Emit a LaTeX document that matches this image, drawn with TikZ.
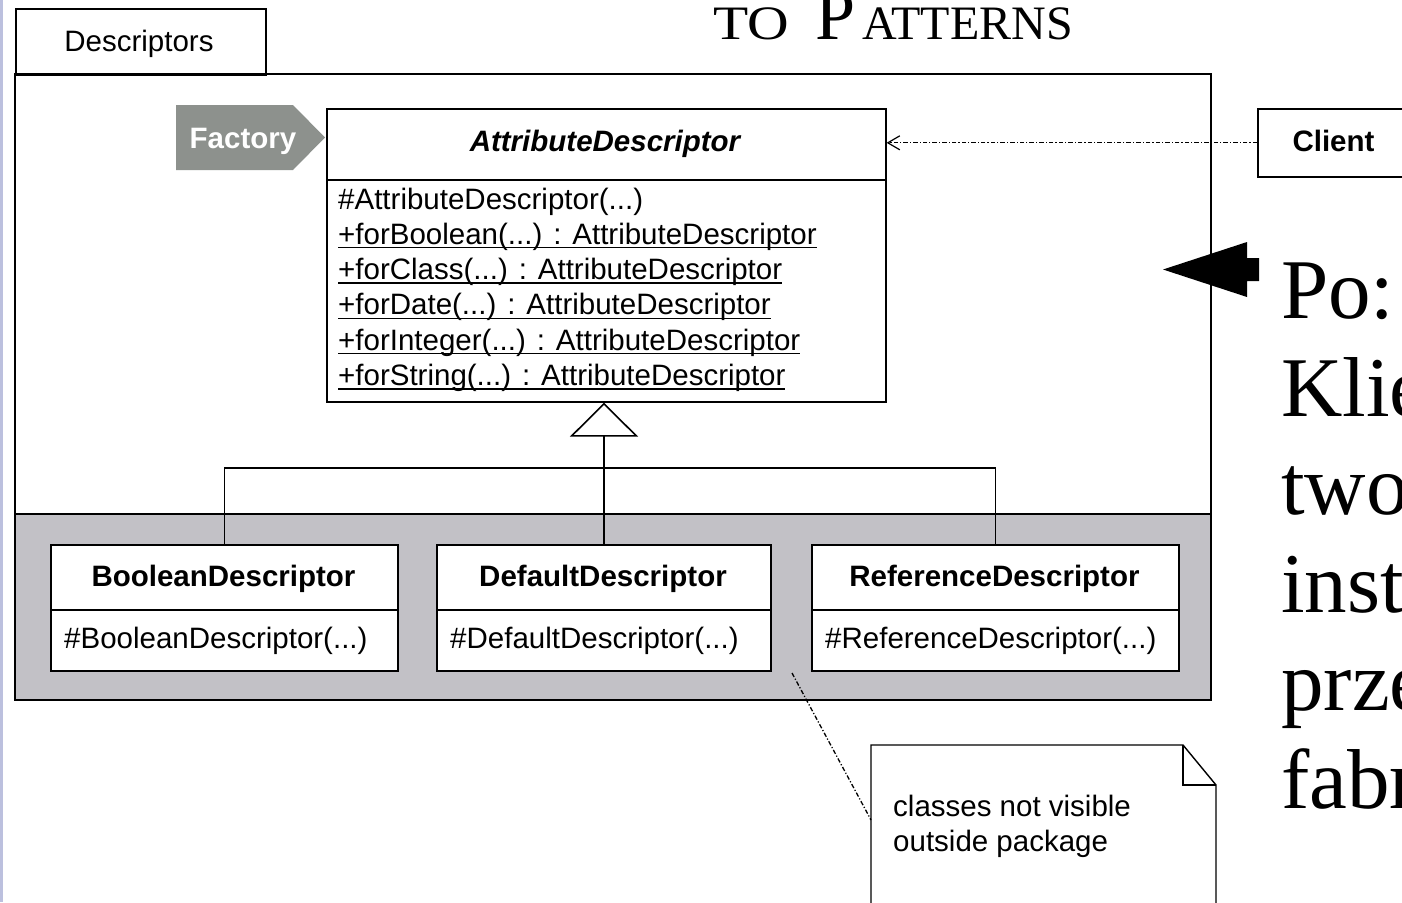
\documentclass[tikz,border=0pt]{standalone}
\usepackage{fontspec}
\newfontfamily\umlfont{Liberation Sans}
\newfontfamily\slidefont{Liberation Serif}
\usetikzlibrary{arrows.meta}
\definecolor{pkggray}{HTML}{C2C1C6}
\definecolor{factgray}{HTML}{8D918D}
\definecolor{sidebar}{HTML}{BCC0DE}
\newsavebox\ulbox
% underlined (static) operation
\newcommand\mthul[1]{\sbox\ulbox{#1}\makebox[0pt][l]{\rule[-4pt]{\wd\ulbox}{1.4pt}}\usebox\ulbox}

\begin{document}
\begin{tikzpicture}[x=1pt,y=-1pt,
  umltext/.style={font=\umlfont\fontsize{29.5}{35}\selectfont, inner sep=0pt},
  umlbold/.style={umltext, font=\umlfont\bfseries\fontsize{29.5}{35}\selectfont},
  clsbox/.style={draw=black, fill=white, line width=1.6pt, inner sep=0pt, anchor=north west},
  outline/.style={draw=black, line width=1.6pt},
  dep/.style={line width=1.3pt, dash pattern=on 4.5pt off 2pt on 1.2pt off 2pt},
  slidetext/.style={font=\slidefont\fontsize{85}{96}\selectfont, inner sep=0pt, anchor=base west},
  headtext/.style={font=\slidefont, inner sep=0pt}
]
\useasboundingbox (0,0) rectangle (1402,902);
\fill[white] (0,0) rectangle (1402,902);
\fill[sidebar] (0,0) rectangle (3,902);

% slide heading
\node[headtext, anchor=base west, font=\slidefont\fontsize{48}{50}\selectfont] (hto) at (713,39) {\scalebox{1.2}[1]{TO}};
\node[headtext, anchor=base west, font=\slidefont\fontsize{72}{74}\selectfont] (hp) at (815,39) {P};
\node[headtext, anchor=base east, font=\slidefont\fontsize{48}{50}\selectfont] (hatt) at (1073,39) {ATTERNS};

% package Descriptors
\fill[pkggray] (15,514) rectangle (1211,700);
\draw[outline] (15,514) -- (1211,514);
\draw[outline] (15,74) rectangle (1211,700);
\node[draw=black, line width=1.6pt, anchor=north west, minimum width=250pt, minimum height=66pt, inner sep=0pt] (tab) at (15,8) {};
\node[umltext, anchor=base] (tablbl) at (139,51) {Descriptors};

% Factory label
\fill[factgray] (176,105) -- (293,105) -- (325,137.5) -- (293,170) -- (176,170) -- cycle;
\node[umlbold, text=white, anchor=base] (factory) at (243,148) {Factory};

% AttributeDescriptor
\node[clsbox, minimum width=559pt, minimum height=71pt] (attrhead) at (326,108) {};
\node[clsbox, minimum width=559pt, minimum height=222pt] (attrbody) at (326,179) {};
\node[umltext, anchor=base, font=\umlfont\bfseries\itshape\fontsize{29.5}{35}\selectfont] (attrname) at (605,151) {AttributeDescriptor};
\node[umltext, anchor=base west] (m1) at (338,209) {\#AttributeDescriptor(...)};
\node[umltext, anchor=base west] (m2) at (338,244.3) {\mthul{+forBoolean(...) : AttributeDescriptor}};
\node[umltext, anchor=base west] (m3) at (338,279.6) {\mthul{+forClass(...) : AttributeDescriptor}};
\node[umltext, anchor=base west] (m4) at (338,314.9) {\mthul{+forDate(...) : AttributeDescriptor}};
\node[umltext, anchor=base west] (m5) at (338,350.2) {\mthul{+forInteger(...) : AttributeDescriptor}};
\node[umltext, anchor=base west] (m6) at (338,385.5) {\mthul{+forString(...) : AttributeDescriptor}};

% concrete descriptors
\node[clsbox, minimum width=347pt, minimum height=65pt] (boolhead) at (50,544) {};
\node[clsbox, minimum width=347pt, minimum height=61pt] (boolbody) at (50,609) {};
\node[umlbold, anchor=base] (boolname) at (223.5,586) {BooleanDescriptor};
\node[umltext, anchor=base west] (boolop) at (64,648) {\#BooleanDescriptor(...)};

\node[clsbox, minimum width=334pt, minimum height=65pt] (defhead) at (436,544) {};
\node[clsbox, minimum width=334pt, minimum height=61pt] (defbody) at (436,609) {};
\node[umlbold, anchor=base] (defname) at (603,586) {DefaultDescriptor};
\node[umltext, anchor=base west] (defop) at (450,648) {\#DefaultDescriptor(...)};

\node[clsbox, minimum width=367pt, minimum height=65pt] (refhead) at (811,544) {};
\node[clsbox, minimum width=367pt, minimum height=61pt] (refbody) at (811,609) {};
\node[umlbold, anchor=base] (refname) at (994.5,586) {ReferenceDescriptor};
\node[umltext, anchor=base west] (refop) at (825,648) {\#ReferenceDescriptor(...)};

% generalization
\coordinate (bus) at (604,468);
\draw[line width=1.6pt] (boolhead.north) |- (bus) -| (refhead.north);
\draw[line width=1.6pt, -{Triangle[open, length=34pt, width=68pt, line width=1.6pt]}] (bus |- defhead.north) -- (bus |- attrbody.south);

% Client
\node[clsbox, minimum width=183pt, minimum height=68pt] (client) at (1257,108) {};
\node[umlbold, anchor=base] (clientlbl) at (1333.5,151) {Client};
\draw[dep, -{Straight Barb[length=12pt, width=14pt, line width=1.2pt]}] (client.west) -- (client.west -| attrhead.east);

% note
\draw[line width=1.4pt, fill=white] (871,745) -- (1183,745) -- (1216,785) -- (1216,915) -- (871,915) -- cycle;
\draw[line width=1.4pt] (1183,745) |- (1216,785);
\node[umltext, anchor=base west] (note1) at (893,816) {classes not visible};
\node[umltext, anchor=base west] (note2) at (893,851) {outside package};
\coordinate (notefrom) at (792,673);
\coordinate (noteto) at (871,820);
\draw[dep] (notefrom) -- (noteto);

% big pointer arrow
\fill (1163,269.5) -- (1247,242) -- (1247,258) -- (1259,258) -- (1259,281) -- (1247,281) -- (1247,297) -- cycle;

% slide text
\node[slidetext] (t1) at (1281,318) {Po:};
\node[slidetext] (t2) at (1281,416) {Klie};
\node[slidetext] (t3) at (1281,514) {two};
\node[slidetext] (t4) at (1281,612) {inst};
\node[slidetext] (t5) at (1281,710) {prze};
\node[slidetext] (t6) at (1281,808) {fabr};
\end{tikzpicture}
\end{document}
